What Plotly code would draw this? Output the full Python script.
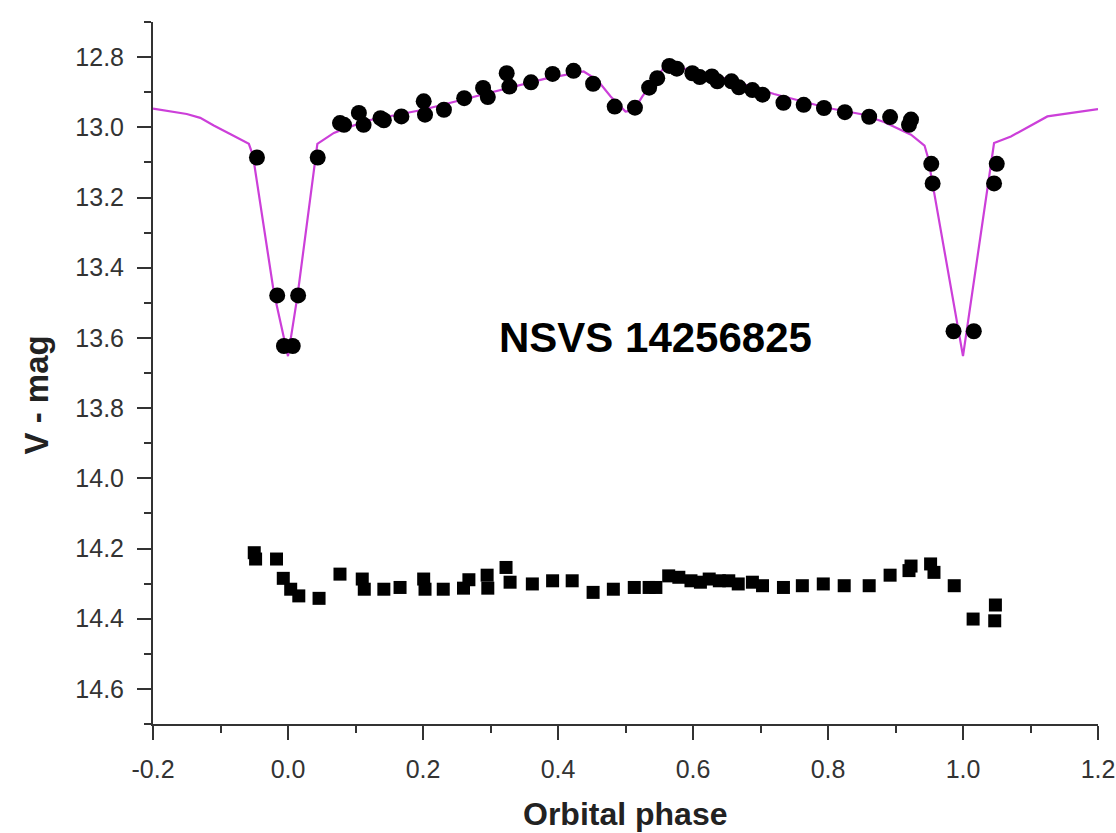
import plotly.graph_objects as go

# Observed V magnitudes of NSVS 14256825 (circles)
obs_phase = [-0.046, -0.016, -0.006, 0.007, 0.015, 0.044, 0.077, 0.083, 0.105, 0.112,
             0.137, 0.142, 0.168, 0.201, 0.203, 0.231, 0.261, 0.289, 0.296, 0.324,
             0.328, 0.360, 0.392, 0.423, 0.452, 0.484, 0.514, 0.535, 0.547, 0.565,
             0.576, 0.599, 0.610, 0.628, 0.636, 0.657, 0.668, 0.688, 0.703, 0.734,
             0.764, 0.794, 0.825, 0.861, 0.892, 0.923, 0.920, 0.953, 0.955, 0.986,
             1.016, 1.050, 1.046]
obs_mag = [13.086, 13.479, 13.623, 13.623, 13.479, 13.086, 12.988, 12.993, 12.959, 12.993,
           12.974, 12.980, 12.969, 12.926, 12.964, 12.950, 12.917, 12.888, 12.914, 12.846,
           12.884, 12.872, 12.848, 12.839, 12.876, 12.941, 12.944, 12.887, 12.860, 12.825,
           12.833, 12.846, 12.857, 12.855, 12.869, 12.869, 12.886, 12.894, 12.907, 12.930,
           12.936, 12.945, 12.957, 12.970, 12.971, 12.978, 12.993, 13.104, 13.160, 13.581,
           13.581, 13.104, 13.160]

# Comparison star magnitudes (squares)
cmp_phase = [-0.050, -0.048, -0.017, -0.007, 0.004, 0.016, 0.046, 0.077, 0.110, 0.113,
             0.142, 0.166, 0.201, 0.203, 0.230, 0.260, 0.268, 0.295, 0.296, 0.323,
             0.329, 0.362, 0.392, 0.421, 0.452, 0.482, 0.513, 0.535, 0.545, 0.564,
             0.579, 0.597, 0.611, 0.624, 0.639, 0.653, 0.667, 0.688, 0.703, 0.734,
             0.762, 0.793, 0.824, 0.861, 0.892, 0.920, 0.923, 0.952, 0.957, 0.987,
             1.015, 1.048, 1.047]
cmp_mag = [14.212, 14.230, 14.230, 14.285, 14.316, 14.335, 14.342, 14.273, 14.287, 14.316,
           14.316, 14.311, 14.287, 14.316, 14.316, 14.313, 14.289, 14.276, 14.313, 14.254,
           14.296, 14.301, 14.292, 14.292, 14.325, 14.316, 14.311, 14.311, 14.311, 14.278,
           14.282, 14.292, 14.296, 14.287, 14.292, 14.292, 14.301, 14.296, 14.306, 14.311,
           14.306, 14.301, 14.306, 14.306, 14.276, 14.263, 14.250, 14.244, 14.268, 14.306,
           14.401, 14.361, 14.406]

# Model light curve (magenta line)
model_phase = [-0.200, -0.150, -0.130, -0.110, -0.085, -0.058, -0.052, -0.021, 0.000, 0.014,
               0.0435, 0.068, 0.088, 0.120, 0.200, 0.300, 0.380, 0.438, 0.458, 0.478,
               0.500, 0.512, 0.525, 0.545, 0.560, 0.600, 0.650, 0.720, 0.800, 0.848,
               0.883, 0.923, 0.943, 0.948, 1.000, 1.046, 1.071, 1.125, 1.200]
model_mag = [12.947, 12.962, 12.973, 12.995, 13.020, 13.047, 13.080, 13.470, 13.652, 13.481,
             13.047, 13.016, 13.001, 12.980, 12.950, 12.900, 12.862, 12.841, 12.865, 12.912,
             12.955, 12.952, 12.912, 12.860, 12.823, 12.838, 12.862, 12.905, 12.945, 12.962,
             12.985, 13.021, 13.052, 13.085, 13.652, 13.045, 13.026, 12.969, 12.948]

x_ticks = [-0.2, 0.0, 0.2, 0.4, 0.6, 0.8, 1.0, 1.2]
y_ticks = [12.8, 13.0, 13.2, 13.4, 13.6, 13.8, 14.0, 14.2, 14.4, 14.6]

FONT = "Arial, Liberation Sans, sans-serif"
AXC = "#333333"

fig = go.Figure()
fig.add_trace(go.Scatter(x=model_phase, y=model_mag, mode="lines",
                         line=dict(color="#CC3FD9", width=2.2), showlegend=False))
fig.add_trace(go.Scatter(x=obs_phase, y=obs_mag, mode="markers",
                         marker=dict(symbol="circle", color="black", size=16),
                         showlegend=False))
fig.add_trace(go.Scatter(x=cmp_phase, y=cmp_mag, mode="markers",
                         marker=dict(symbol="square", color="black", size=13),
                         showlegend=False))

fig.update_layout(
    width=1116, height=833,
    margin=dict(l=153, r=18, t=22, b=109),
    paper_bgcolor="white", plot_bgcolor="white",
    font=dict(family=FONT, color=AXC),
    xaxis=dict(range=[-0.2, 1.2], tickvals=x_ticks, ticktext=[f"{v:.1f}" for v in x_ticks],
               automargin=False,
               showgrid=False, zeroline=False, showline=True, linecolor=AXC, linewidth=2,
               ticks="outside", ticklen=14, tickwidth=2, tickcolor=AXC,
               tickfont=dict(size=25, color=AXC, family=FONT), ticklabelstandoff=8,
               minor=dict(dtick=0.1, tick0=0, ticks="outside", ticklen=7, tickwidth=2,
                          tickcolor=AXC, showgrid=False)),
    yaxis=dict(range=[14.7, 12.7], tickvals=y_ticks, ticktext=[f"{v:.1f}" for v in y_ticks],
               automargin=False,
               showgrid=False, zeroline=False, showline=True, linecolor=AXC, linewidth=2,
               ticks="outside", ticklen=14, tickwidth=2, tickcolor=AXC,
               tickfont=dict(size=25, color=AXC, family=FONT), ticklabelstandoff=8,
               minor=dict(dtick=0.1, tick0=12.7, ticks="outside", ticklen=7, tickwidth=2,
                          tickcolor=AXC, showgrid=False)),
    annotations=[
        dict(text="<b>NSVS 14256825</b>", xref="paper", yref="paper", x=0.532, y=0.551,
             xanchor="center", yanchor="middle", showarrow=False,
             font=dict(size=42, color="black", family=FONT)),
        dict(text="<b>Orbital phase</b>", xref="paper", yref="paper", x=0.5, y=-0.128,
             xanchor="center", yanchor="middle", showarrow=False,
             font=dict(size=32, color="#222222", family=FONT)),
        dict(text="<b>V - mag</b>", xref="paper", yref="paper", x=-0.123, y=0.469,
             xanchor="center", yanchor="middle", showarrow=False, textangle=-90,
             font=dict(size=33, color="#222222", family=FONT)),
    ],
)

fig.write_html("out.html")
